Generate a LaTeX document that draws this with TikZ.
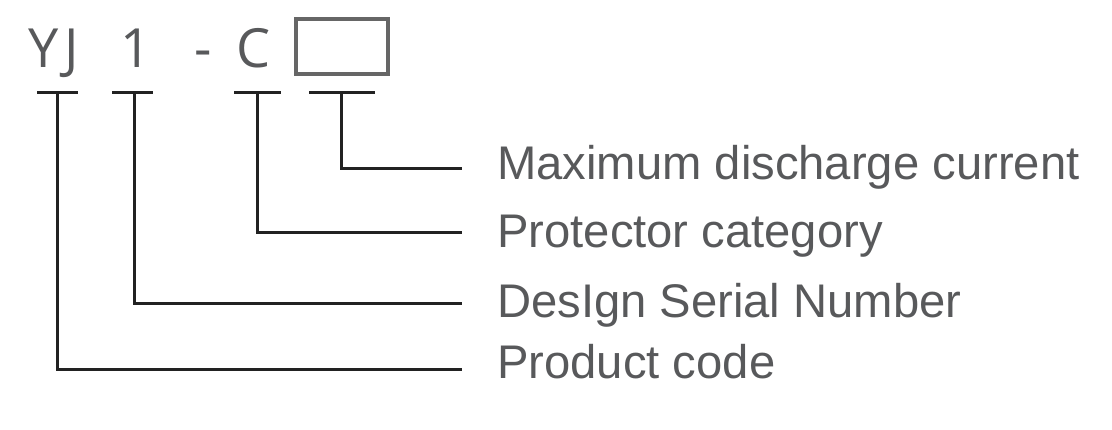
\documentclass[tikz,border=0pt]{standalone}
\usepackage{fontspec}
\setmainfont{Liberation Sans}
\newfontfamily\codefont{Open Sans}
\definecolor{txtgray}{HTML}{58595B}
\definecolor{boxgray}{HTML}{666666}
\definecolor{linedark}{HTML}{222222}
\begin{document}
\begin{tikzpicture}[x=1pt,y=-1pt,
  codech/.style={inner sep=0pt,anchor=base,text=txtgray,font=\codefont\fontsize{54}{60}\selectfont},
  lbl/.style={inner sep=0pt,anchor=base west,text=txtgray,font=\fontsize{47.2}{52}\selectfont},
  bar/.style={draw=linedark,line width=3pt},
  conn/.style={draw=linedark,line width=3pt}]
\useasboundingbox (0,0) rectangle (1112,429);
% code characters
\node[codech] (cY) at (44,67) {Y};
\node[codech] (cJ) at (72,67) {J};
\node[codech] (c1) at (136,67) {1};
\node[codech] (cdash) at (203.5,67) {-};
\node[codech] (cC) at (254,67) {C};
\node[draw=boxgray,line width=4pt,minimum width=92pt,minimum height=55pt,inner sep=0pt] (cbox) at (342,46.5) {};
% T bars
\coordinate (t1) at (57,92);
\coordinate (t2) at (134,92);
\coordinate (t3) at (257,92);
\coordinate (t4) at (341,92);
\draw[bar] (37,92) -- (78,92);
\draw[bar] (112,92) -- (153,92);
\draw[bar] (234,92) -- (281,92);
\draw[bar] (309,92) -- (375,92);
% labels
\node[lbl] (l4) at (497,179) {Maximum discharge current};
\node[lbl] (l3) at (497,247) {Protector category};
\node[lbl] (l2) at (497,317) {DesIgn Serial Number};
\node[lbl] (l1) at (497,378) {Product code};
% connector ends
\coordinate (e4) at (462,168);
\coordinate (e3) at (462,232);
\coordinate (e2) at (462,303);
\coordinate (e1) at (462,369);
\draw[conn] (t4) |- (e4);
\draw[conn] (t3) |- (e3);
\draw[conn] (t2) |- (e2);
\draw[conn] (t1) |- (e1);
\end{tikzpicture}
\end{document}
